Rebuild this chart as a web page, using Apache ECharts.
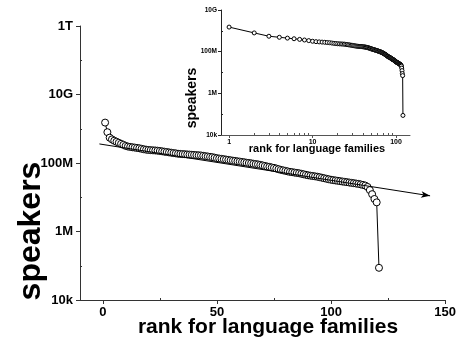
<!DOCTYPE html>
<html>
<head>
<meta charset="utf-8">
<script src="https://cdn.jsdelivr.net/npm/echarts@6/dist/echarts.min.js"></script>
<style>
  html, body { margin: 0; padding: 0; background: #fff; }
  #chart { width: 459px; height: 348px; }
</style>
</head>
<body>
<div id="chart"></div>
<script>
// Number of speakers (in millions) for each language family, ordered by rank
const speakersMillions = [
  1514, 794, 550, 490, 447, 417, 389, 363, 339, 316,
  302, 295, 288, 282, 275, 269, 260, 251, 245, 240,
  237, 234, 232, 229, 224, 219, 214, 209, 204, 200,
  195, 191, 186, 184, 182, 180, 178, 176, 174, 172,
  170, 168, 166, 162, 158, 155, 151, 148, 143, 138,
  135, 132, 129, 126, 123, 120, 117, 115, 112, 110,
  107, 105, 102, 100, 98, 95, 93, 91, 88, 85,
  82, 79, 77, 74, 72, 69, 66, 63, 61, 59,
  57, 55, 54, 52.5, 51.3, 50.1, 48.4, 46.8, 45.2, 43.7,
  42.7, 41.7, 40.7, 39.8, 38.5, 37.2, 35.9, 34.7, 33.5, 32.4,
  31.6, 30.9, 30.2, 29.5, 28.8, 28.2, 27.5, 26.9, 26.3, 25.7,
  25.1, 24.5, 23.7, 22.9, 21.9, 20.0, 16.2, 12.3, 8.9, 7.1,
  0.087
];

// Straight guide line (rank, speakers) drawn with an arrow head
const fitLineStart = [-1.5, 3.6e8];
const fitLineEnd = [143.4, 1.1e7];

// Axis ticks
const xTickValues = [0, 50, 100, 150];
const xMinorTickValues = [25, 75, 125];
const yTickValues = [1e4, 1e6, 1e8, 1e10, 1e12];
const yTickLabels = ['10k', '1M', '100M', '10G', '1T'];
const yMinorTickValues = [1e5, 1e7, 1e9, 1e11];
const insetXTickValues = [1, 10, 100];
const insetXMinorTickValues = [2, 3, 4, 5, 6, 7, 8, 9, 20, 30, 40, 50, 60, 70, 80, 90];
const insetYTickValues = [1e4, 1e6, 1e8, 1e10];
const insetYMinorTickValues = [1e5, 1e7, 1e9];

const FONT = '"Liberation Sans", Arial, sans-serif';

const points = speakersMillions.map((m, i) => [i + 1, m * 1e6]);

function powerLabel(v) {
  const idx = yTickValues.findIndex(t => Math.abs(Math.log10(t) - Math.log10(v)) < 1e-6);
  return idx >= 0 ? yTickLabels[idx] : '';
}

function majorAxis(extra, lineColor) {
  return Object.assign({
    splitLine: { show: false },
    axisLine: { show: true, onZero: false, lineStyle: { color: lineColor, width: 1 } }
  }, extra);
}

function minorAxis(extra, ticks, color) {
  return Object.assign({
    splitLine: { show: false },
    axisLine: { show: false, onZero: false },
    axisTick: { show: true, inside: true, length: 2, customValues: ticks, lineStyle: { color: color } },
    axisLabel: { show: false }
  }, extra);
}

const chart = echarts.init(document.getElementById('chart'), null, { renderer: 'canvas' });

chart.setOption({
  animation: false,
  backgroundColor: '#fff',
  grid: [
    { left: 80, top: 26, width: 367, height: 274 },
    { left: 221, top: 10, width: 189, height: 125 }
  ],
  xAxis: [
    majorAxis({
      type: 'value', gridIndex: 0, position: 'bottom', min: -10, max: 150,
      axisTick: { show: true, length: 4, customValues: xTickValues, lineStyle: { color: '#333' } },
      axisLabel: { customValues: xTickValues, color: '#000', fontFamily: FONT, fontWeight: 'bold', fontSize: 13, margin: 6 }
    }, '#333'),
    minorAxis({ type: 'value', gridIndex: 0, position: 'bottom', min: -10, max: 150 }, xMinorTickValues, '#333'),
    majorAxis({
      type: 'log', gridIndex: 1, position: 'bottom', min: 0.8, max: 147, logBase: 10,
      axisTick: { show: true, length: 3, customValues: insetXTickValues, lineStyle: { color: '#555' } },
      axisLabel: { customValues: insetXTickValues, color: '#000', fontFamily: FONT, fontWeight: 'bold', fontSize: 7, margin: 4 }
    }, '#555'),
    minorAxis({ type: 'log', gridIndex: 1, position: 'bottom', min: 0.8, max: 147, logBase: 10 }, insetXMinorTickValues, '#555')
  ],
  yAxis: [
    majorAxis({
      type: 'log', gridIndex: 0, position: 'left', min: 1e4, max: 1e12, logBase: 10,
      axisTick: { show: true, length: 4, customValues: yTickValues, lineStyle: { color: '#333' } },
      axisLabel: { customValues: yTickValues, formatter: powerLabel, color: '#000', fontFamily: FONT, fontWeight: 'bold', fontSize: 13, margin: 7 }
    }, '#333'),
    minorAxis({ type: 'log', gridIndex: 0, position: 'left', min: 1e4, max: 1e12, logBase: 10 }, yMinorTickValues, '#333'),
    majorAxis({
      type: 'log', gridIndex: 1, position: 'left', min: 1e4, max: 1e10, logBase: 10,
      axisTick: { show: true, length: 3, customValues: insetYTickValues, lineStyle: { color: '#222' } },
      axisLabel: { customValues: insetYTickValues, formatter: powerLabel, color: '#000', fontFamily: FONT, fontWeight: 'bold', fontSize: 6.5, margin: 4 }
    }, '#222'),
    minorAxis({ type: 'log', gridIndex: 1, position: 'left', min: 1e4, max: 1e10, logBase: 10 }, insetYMinorTickValues, '#222')
  ],
  series: [
    {
      type: 'line',
      xAxisIndex: 0,
      yAxisIndex: 0,
      data: points,
      showAllSymbol: true,
      symbol: 'circle',
      symbolSize: 7,
      itemStyle: { color: '#fff', borderColor: '#000', borderWidth: 1 },
      lineStyle: { color: '#000', width: 1 },
      z: 3,
      markLine: {
        silent: true,
        symbol: ['none', 'arrow'],
        symbolSize: [5, 9],
        label: { show: false },
        lineStyle: { color: '#000', width: 1, type: 'solid' },
        itemStyle: { color: '#000' },
        data: [[{ coord: fitLineStart }, { coord: fitLineEnd }]]
      }
    },
    {
      type: 'line',
      xAxisIndex: 2,
      yAxisIndex: 2,
      data: points,
      showAllSymbol: true,
      symbol: 'circle',
      symbolSize: 4,
      itemStyle: { color: '#fff', borderColor: '#000', borderWidth: 1 },
      lineStyle: { color: '#000', width: 1 },
      z: 4
    }
  ],
  graphic: [
    {
      type: 'text', x: 31, y: 231, rotation: Math.PI / 2,
      style: { text: 'speakers', font: 'bold 32px ' + FONT, fill: '#000', align: 'center', verticalAlign: 'middle' }
    },
    {
      type: 'text', x: 268, y: 327,
      style: { text: 'rank for language families', font: 'bold 21px ' + FONT, fill: '#000', align: 'center', verticalAlign: 'middle' }
    },
    {
      type: 'text', x: 192, y: 98, rotation: Math.PI / 2,
      style: { text: 'speakers', font: 'bold 14px ' + FONT, fill: '#000', align: 'center', verticalAlign: 'middle' }
    },
    {
      type: 'text', x: 317, y: 149,
      style: { text: 'rank for language families', font: 'bold 11px ' + FONT, fill: '#000', align: 'center', verticalAlign: 'middle' }
    }
  ]
});
</script>
</body>
</html>
